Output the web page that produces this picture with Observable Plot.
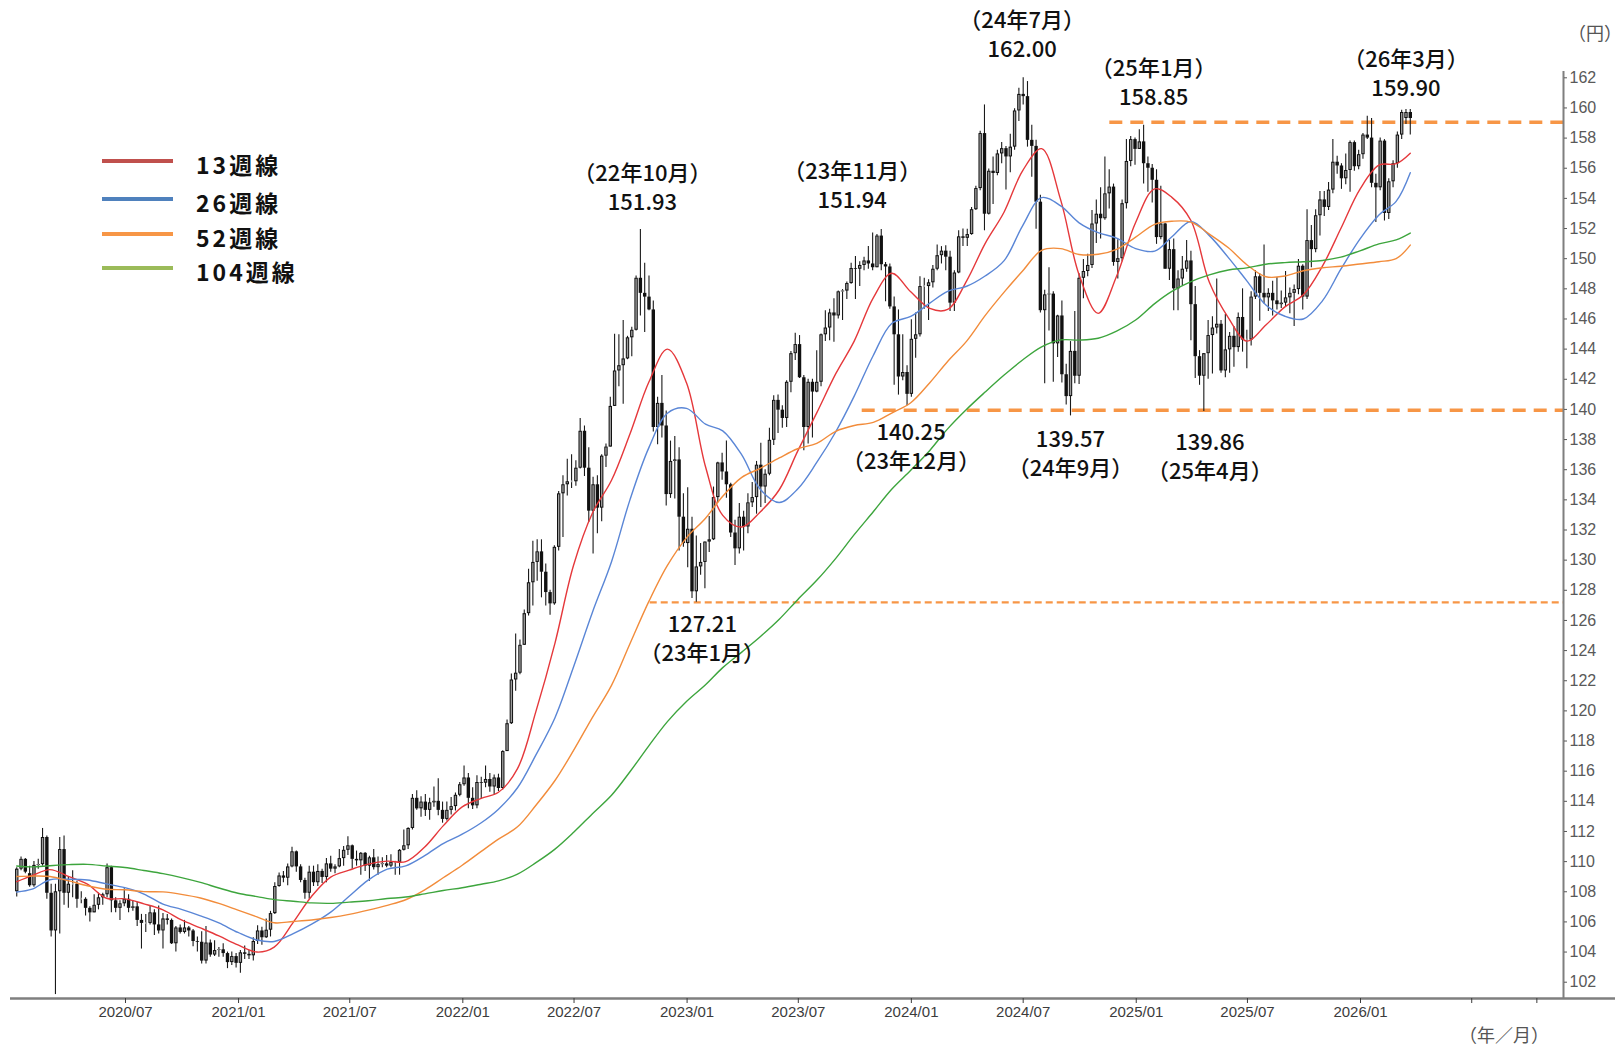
<!DOCTYPE html>
<html><head><meta charset="utf-8">
<script src="https://cdn.jsdelivr.net/npm/d3@7"></script>
<script src="https://cdn.jsdelivr.net/npm/@observablehq/plot@0.6"></script>
<style>
html,body{margin:0;padding:0;background:#fff;}
#wrap{position:relative;width:1623px;height:1048px;overflow:hidden;background:#fff;}
#wrap svg{position:absolute;left:0;top:0;}
.lg{position:absolute;left:102px;width:71px;height:4.5px;}
.lt{position:absolute;left:196px;font-family:"Noto Sans CJK JP",sans-serif;font-weight:700;font-size:23px;letter-spacing:3px;color:#111;line-height:24px;white-space:nowrap;}
.unit{position:absolute;font-family:"Noto Sans CJK JP",sans-serif;font-size:18px;color:#555;line-height:20px;white-space:nowrap;transform:translate(-50%,-50%);}
</style></head><body><div id="wrap"></div>
<script>
// ---------- weekly candles [open, high, low, close] ----------
const y2020 = [
[108.0,109.6,107.65,109.5],[109.5,110.3,109.4,110.15],[110.15,110.2,109.2,109.3],[109.2,109.7,108.3,108.4],
[108.4,110.0,108.3,109.75],[109.75,110.15,109.5,109.8],[109.8,112.2,109.7,111.6],[111.6,111.7,107.5,107.9],
[107.9,108.5,105.0,105.4],[105.4,108.5,101.18,108.0],[108.0,111.6,105.2,110.8],[110.8,111.7,107.1,107.9],[107.9,109.0,106.9,108.5],
[108.5,109.4,107.6,108.5],[108.5,108.7,106.9,107.5],[107.5,108.0,107.2,107.5],[107.5,107.6,106.4,106.9],
[106.9,107.0,105.99,106.6],[106.6,107.8,106.6,107.1],[107.1,107.9,106.8,107.6],[107.6,107.9,107.1,107.8],
[107.8,109.85,107.6,109.6],[109.6,109.7,106.6,107.4],[107.4,107.6,106.6,106.9],[106.9,107.4,106.1,107.2],[107.2,108.2,107.0,107.5],
[107.5,107.8,106.6,106.9],[106.9,107.4,106.7,107.0],[107.0,107.3,105.7,106.1],[106.1,106.5,104.2,105.9],
[105.9,106.5,105.3,105.9],[105.9,107.05,105.8,106.6],[106.6,106.8,105.1,105.8],[105.8,107.05,105.2,105.4],[105.4,106.55,104.2,106.2],
[106.2,106.5,105.8,106.1],[106.1,106.2,104.5,104.55],[104.55,105.7,104.0,105.6],[105.6,105.8,105.2,105.3],
[105.3,106.1,105.2,105.6],[105.6,105.7,105.0,105.4],[105.4,105.5,104.35,104.7],[104.7,105.0,104.0,104.65],
[104.65,105.35,103.2,103.4],[103.4,105.7,103.2,104.6],[104.6,104.8,103.65,103.8],[103.8,104.75,103.7,104.1],[104.1,104.3,103.65,104.15],
[104.15,104.55,103.65,103.9],[103.9,104.0,102.9,103.3],[103.3,104.0,103.1,103.7],[103.7,103.9,102.95,103.25]
];
const y2021 = [
[103.25,104.1,102.6,103.95],[103.95,104.4,103.5,103.85],[103.85,104.1,103.5,103.75],[103.75,104.95,103.4,104.7],
[104.7,105.75,104.5,105.4],[105.4,105.65,104.45,104.95],[104.95,106.2,104.9,105.45],[105.45,106.7,105.0,106.55],
[106.55,108.6,106.5,108.35],[108.35,109.25,108.3,109.05],[109.05,109.35,108.6,108.9],[108.9,109.85,108.4,109.65],[109.65,110.95,109.6,110.65],
[110.65,110.7,109.3,109.65],[109.65,109.8,108.6,108.75],[108.75,108.9,107.5,107.9],[107.9,109.7,107.5,109.3],
[109.3,109.7,108.35,108.6],[108.6,109.8,108.35,109.35],[109.35,109.5,108.55,108.95],[108.95,110.2,108.6,109.85],[109.85,110.35,109.3,109.5],
[109.5,109.8,109.2,109.65],[109.65,110.8,109.6,110.2],[110.2,111.0,109.7,110.75],[110.75,111.65,110.4,111.05],
[111.05,111.1,109.5,110.15],[110.15,110.7,109.7,110.05],[110.05,110.6,109.1,110.55],[110.55,110.6,109.35,109.7],
[109.7,110.35,108.7,110.25],[110.25,110.8,109.45,109.6],[109.6,110.3,109.1,109.8],[109.8,110.25,109.6,109.85],[109.85,110.4,109.6,109.7],
[109.7,110.45,109.6,109.95],[109.95,110.0,109.1,109.95],[109.95,110.8,109.1,110.75],[110.75,112.1,110.7,111.05],
[111.05,112.25,110.8,112.2],[112.2,114.45,112.1,114.2],[114.2,114.7,113.4,113.5],[113.5,114.3,112.95,113.95],
[113.95,114.45,113.0,113.4],[113.4,114.2,112.75,113.9],[113.9,114.95,113.6,114.0],[114.0,115.5,113.05,113.4],[113.4,113.95,112.55,112.8],
[112.8,113.95,112.7,113.4],[113.4,114.25,113.1,113.65],[113.65,114.55,113.35,114.4],[114.4,115.25,114.3,115.1]
];
const y2022 = [
[115.1,116.35,115.0,115.55],[115.55,115.85,113.5,114.2],[114.2,114.9,113.45,113.7],[113.7,115.7,113.5,115.25],[115.25,115.6,114.15,115.2],
[115.2,116.35,114.9,115.45],[115.45,115.85,114.6,114.95],[114.95,115.75,114.4,115.55],[115.55,115.8,114.65,114.85],
[114.85,117.35,114.75,117.3],[117.3,119.4,117.3,119.15],[119.15,122.45,119.1,122.05],[122.05,125.1,121.3,122.5],
[122.5,124.7,122.4,124.35],[124.35,126.7,124.35,126.45],[126.45,129.4,126.3,128.5],[128.5,131.25,126.95,129.85],
[129.85,131.35,128.6,130.55],[130.55,131.35,127.5,129.2],[129.2,129.75,126.95,127.85],[127.85,128.0,126.35,127.1],[127.1,130.95,127.0,130.85],
[130.85,134.55,130.6,134.4],[134.4,135.6,131.5,135.0],[135.0,136.7,134.25,135.2],[135.2,137.0,134.75,135.2],
[135.2,136.6,134.9,136.1],[136.1,139.4,136.05,138.55],[138.55,138.9,135.55,136.1],[136.1,137.45,132.5,133.25],
[133.25,135.5,130.4,135.0],[135.0,135.6,131.75,133.45],[133.45,137.0,132.55,136.9],[136.9,137.7,136.15,137.5],[137.5,140.8,137.5,140.2],
[140.2,144.99,140.2,142.55],[142.55,144.95,141.5,142.9],[142.9,145.9,140.35,143.35],[143.35,144.85,143.3,144.75],
[144.75,145.45,143.5,145.25],[145.25,148.85,145.2,148.7],[148.7,151.93,146.2,147.7],[147.7,149.7,145.1,147.45],[147.45,148.85,146.55,146.6],
[146.6,147.2,138.5,138.8],[138.8,140.8,137.65,140.4],[140.4,142.25,138.1,138.9],[138.9,139.9,133.6,134.35],
[134.35,137.9,134.1,136.55],[136.55,138.2,134.05,136.65],[136.65,137.45,130.6,132.85],[132.85,134.4,130.85,131.1]
];
const y2023 = [
[131.1,134.8,129.5,132.05],[132.05,132.85,127.45,127.9],[127.9,131.6,127.21,129.55],[129.55,131.1,129.0,129.85],[129.85,131.2,128.1,131.2],
[131.2,132.9,130.5,131.35],[131.35,134.85,131.3,134.15],[134.15,136.5,133.8,136.45],[136.45,137.1,135.3,135.85],
[135.85,137.9,134.1,135.0],[135.0,135.1,131.5,131.8],[131.8,132.65,129.65,130.75],[130.75,133.75,130.4,132.85],
[132.85,133.25,130.6,132.2],[132.2,134.4,131.75,133.8],[133.8,135.15,133.5,134.15],[134.15,136.55,133.05,136.3],
[136.3,137.75,133.5,134.85],[134.85,136.0,133.75,135.7],[135.7,138.75,135.6,137.95],[137.95,140.9,137.6,140.6],[140.6,140.95,138.4,139.95],
[139.95,140.25,138.75,139.4],[139.4,141.9,138.8,141.8],[141.8,143.85,141.1,143.7],[143.7,145.05,143.25,144.3],
[144.3,144.9,142.05,142.1],[142.1,142.25,137.25,138.8],[138.8,142.0,137.7,141.8],[141.8,142.0,138.1,141.15],[141.15,143.9,141.1,141.8],
[141.8,145.0,141.5,144.95],[144.95,146.55,144.5,145.4],[145.4,146.65,144.55,146.4],[146.4,147.35,144.45,146.2],
[146.2,147.85,146.0,147.8],[147.8,147.95,145.9,147.85],[147.85,148.45,147.3,148.35],[148.35,149.7,148.3,149.35],
[149.35,150.15,147.3,149.3],[149.3,149.8,148.15,149.55],[149.55,150.1,149.2,149.85],[149.85,150.8,149.3,149.65],[149.65,151.7,149.2,149.4],
[149.4,151.6,149.4,151.5],[151.5,151.94,149.2,149.6],[149.6,149.75,147.15,149.45],[149.45,149.65,146.65,146.8],
[146.8,147.45,141.6,144.95],[144.95,146.6,140.95,142.15],[142.15,144.95,141.9,142.45],[142.45,142.9,140.25,141.0]
];
const y2024 = [
[141.0,145.95,140.8,144.65],[144.65,146.4,143.4,144.95],[144.95,148.8,144.8,148.15],[148.15,148.7,146.65,148.15],[148.15,148.6,145.9,148.4],
[148.4,149.55,148.05,149.3],[149.3,150.9,149.2,150.2],[150.2,150.8,149.65,150.5],[150.5,150.85,149.2,150.1],
[150.1,150.5,146.5,147.05],[147.05,149.2,146.5,149.05],[149.05,151.85,149.0,151.45],[151.45,151.97,150.8,151.35],
[151.35,151.95,150.8,151.6],[151.6,153.4,151.55,153.25],[153.25,154.8,153.2,154.65],[154.65,158.45,154.5,158.3],[158.3,160.2,151.85,152.95],
[152.95,155.95,152.9,155.8],[155.8,156.75,153.6,155.65],[155.65,157.2,155.5,156.95],[156.95,157.7,156.3,157.3],
[157.3,157.45,154.55,156.75],[156.75,158.25,155.7,157.4],[157.4,159.95,157.2,159.8],[159.8,161.3,159.1,160.9],
[160.9,162.0,160.2,160.75],[160.75,161.75,157.4,157.85],[157.85,158.85,155.4,157.45],[157.45,157.85,151.95,153.75],[153.75,154.2,146.4,146.55],
[146.55,147.9,141.7,147.6],[147.6,149.4,145.2,147.65],[147.65,147.8,141.8,144.35],[144.35,146.25,143.45,146.2],
[146.2,147.2,141.75,142.3],[142.3,143.0,140.3,140.85],[140.85,144.5,139.57,143.85],[143.85,146.5,141.7,142.2],[142.2,149.0,141.65,148.7],
[148.7,149.95,147.35,149.15],[149.15,150.3,148.8,149.55],[149.55,153.2,149.35,152.3],[152.3,153.9,151.0,152.95],
[152.95,154.7,151.3,152.65],[152.65,156.75,152.55,154.3],[154.3,155.9,153.3,154.75],[154.75,154.95,149.5,149.75],
[149.75,151.25,148.65,150.0],[150.0,153.9,149.8,153.65],[153.65,157.9,153.3,156.45],[156.45,158.1,156.1,157.9],[157.9,158.0,156.2,157.25]
];
const y2025 = [
[157.25,158.55,157.25,157.75],[157.75,158.85,154.95,156.3],[156.3,156.75,154.4,156.0],[156.0,156.25,153.7,155.2],
[155.2,155.9,150.95,151.4],[151.4,154.8,151.25,152.3],[152.3,152.35,149.3,149.3],[149.3,151.2,148.55,150.6],
[150.6,151.3,146.55,148.0],[148.0,149.2,146.55,148.65],[148.65,150.15,148.2,149.3],[149.3,151.2,149.1,149.85],[149.85,150.5,144.55,146.95],
[146.95,148.15,142.05,143.5],[143.5,143.9,141.6,142.2],[142.2,143.7,139.86,143.7],[143.7,145.9,142.0,144.9],
[144.9,146.15,142.35,145.4],[145.4,148.65,145.0,145.65],[145.65,145.9,142.4,142.55],[142.55,146.3,142.1,143.95],
[143.95,145.1,142.4,144.85],[144.85,145.5,142.8,144.1],[144.1,146.4,143.8,146.1],[146.1,148.0,143.8,144.6],[144.6,145.25,142.7,144.6],
[144.6,147.8,144.2,147.45],[147.45,149.2,147.3,148.8],[148.8,149.0,145.85,147.7],[147.7,150.9,147.0,147.4],
[147.4,148.0,146.5,147.7],[147.7,148.5,146.2,147.2],[147.2,148.75,146.6,146.95],[146.95,147.85,146.7,147.05],
[147.05,149.15,146.8,147.4],[147.4,148.05,146.35,147.7],[147.7,148.25,145.5,147.95],[147.95,149.95,147.6,149.5],[149.5,149.6,146.6,147.45],
[147.45,153.25,147.3,151.2],[151.2,152.2,149.4,150.6],[150.6,153.25,150.4,152.85],[152.85,154.45,151.5,153.9],
[153.9,154.45,152.8,153.4],[153.4,155.05,153.2,154.55],[154.55,157.9,154.3,156.4],[156.4,156.8,155.6,156.15],
[156.15,156.3,154.6,155.3],[155.3,156.95,154.9,155.85],[155.85,157.8,154.4,157.7],[157.7,157.8,155.8,156.1],[156.1,157.2,155.9,156.9]
];
const y2026 = [
[156.9,158.3,156.6,158.2],[158.2,159.45,157.9,158.0],[158.0,159.3,154.7,155.0],[155.0,155.6,152.4,154.7],
[154.7,158.0,154.5,157.8],[157.8,157.9,152.5,153.0],[153.0,155.3,152.6,155.1],[155.1,156.5,154.7,156.3],
[156.3,158.4,156.0,158.2],[158.2,159.85,157.9,159.7],[159.3,159.9,158.9,159.7],[159.7,159.9,158.2,159.3]
];

// ---------- moving averages (start, month ends 2020/01..2026/02, last week) ----------
const ma13 = [108.67,109.07,109.47,109.0,108.5,107.57,107.53,107.2,106.8,106.13,105.6,105.07,104.47,
104.0,104.33,105.97,107.7,108.97,109.43,109.83,110.03,110.0,110.97,112.37,113.63,
114.2,114.6,116.17,119.97,124.5,129.63,133.13,135.3,138.37,141.83,144.0,141.77,
136.2,132.97,132.2,133.2,134.67,137.23,139.77,142.37,144.53,147.4,149.03,147.8,
146.7,146.63,148.53,151.0,153.1,155.83,157.3,153.9,148.93,146.37,148.83,152.4,
154.63,154.07,152.53,148.43,146.07,144.53,145.6,146.8,147.6,149.5,152.0,154.6,
156.2,156.3,157.0];
const ma26 = [107.98,108.17,108.8,108.83,108.78,108.52,108.27,107.85,107.18,106.83,106.4,105.93,105.3,
104.8,104.7,105.22,105.85,106.65,107.7,108.77,109.5,109.72,110.4,111.2,111.82,
112.58,113.48,114.9,117.08,119.55,122.9,126.55,129.9,134.0,137.48,139.75,140.07,
139.02,138.58,136.98,134.7,133.82,134.72,136.48,138.52,140.88,143.58,145.7,146.17,
147.05,147.83,148.17,148.85,149.87,152.18,154.05,153.5,152.38,151.73,151.37,150.67,
150.5,151.45,152.47,151.53,150.07,148.53,146.93,146.18,146.0,147.2,149.3,151.3,
152.9,153.8,155.7];
const ma52 = [109.01,109.04,109.01,108.72,108.4,108.17,108.13,108.01,107.99,107.83,107.59,107.23,106.78,
106.33,105.94,106.03,106.13,106.29,106.5,106.78,107.1,107.47,108.13,108.93,109.76,
110.68,111.49,112.31,113.74,115.38,117.36,119.57,121.69,124.45,127.28,129.65,131.48,
132.78,134.24,135.49,136.09,136.78,137.39,137.75,138.55,138.93,139.14,139.76,140.44,
141.77,143.18,144.53,146.22,147.78,149.18,150.55,150.67,150.28,150.29,150.62,151.43,
152.28,152.48,152.43,151.63,150.72,149.6,148.8,148.85,149.2,149.4,149.5,149.65,
149.8,150.0,150.9];
const ma104 = [109.71,109.65,109.73,109.8,109.82,109.71,109.61,109.41,109.2,108.94,108.62,108.25,107.9,
107.68,107.48,107.37,107.26,107.23,107.31,107.4,107.55,107.65,107.86,108.08,108.27,
108.5,108.72,109.17,109.93,110.83,111.93,113.18,114.4,115.96,117.7,119.29,120.62,
121.73,122.87,123.9,124.92,126.08,127.38,128.66,130.12,131.69,133.21,134.7,135.96,
137.28,138.71,140.01,141.15,142.28,143.28,144.15,144.61,144.6,144.72,145.19,145.93,
147.02,147.83,148.48,148.93,149.25,149.39,149.63,149.74,149.8,149.88,150.1,150.52,
150.98,151.25,151.7];
const maNames = ["13週線","26週線","52週線","104週線"];

// ---------- reference levels ----------
const levelValues = [159.05, 139.95, 127.2];
const levelStarts = ["2024-11-19", "2023-10-13", "2022-11-02"];

// ---------- annotations ----------
const annotDates  = ["2022-10-17","2023-11-13","2024-07-01","2025-01-13","2026-03-16","2023-12-25","2024-09-16","2025-04-21","2023-01-16"];
const annotValues = [151.93,151.94,162.00,158.85,159.90,140.25,139.57,139.86,127.21];
const annotMonths = ["（22年10月）","（23年11月）","（24年7月）","（25年1月）","（26年3月）","（23年12月）","（24年9月）","（25年4月）","（23年1月）"];
const annotSide   = ["above","above","above","above","above","below","below","below","below"];

// ---------- axis ticks ----------
const xTickLabels = ["2020/07","2021/01","2021/07","2022/01","2022/07","2023/01","2023/07","2024/01","2024/07","2025/01","2025/07","2026/01"];
const xBlankTicks = ["2026-07-01","2026-10-15"];
const yTicks = d3.range(102, 163, 2);

// ---------- layout / style (pixels) ----------
const annotShiftX = [2,-29,-1,10,0,4,0,6,6];
const annotShiftY = [0,-2,-1,-1,6,0,-3,4,-4];
const maColors = ["#e5383b","#5a86d6","#f28c3b","#3da53d"];
const legendColors = ["#c0504d","#4f81bd","#f79646","#9bbb59"];
const legendY = [161,199,234,268];

// ---------- build ----------
const parse = s => new Date(s + "T00:00:00Z");
const weeks = d3.utcMonday.range(parse("2020-01-06"), parse("2026-03-24"));
const all = [...y2020,...y2021,...y2022,...y2023,...y2024,...y2025,...y2026];
const candles = all.map((r,i) => ({date: weeks[i], open:r[0], high:r[1], low:r[2], close:r[3],
  top: Math.max(r[0], r[3]), bot: Math.min(r[0], r[3])}));
const upC = candles.filter(d => d.close >= d.open);

const monthEnds = d3.utcMonth.range(parse("2020-02-01"), parse("2026-03-02")).map(d => d3.utcDay.offset(d, -1));
const maDates = [parse("2020-01-06"), ...monthEnds, parse("2026-03-23")];
const maSeries = [ma13, ma26, ma52, ma104].map((arr, k) => arr.map((v, i) => ({date: maDates[i], v, k})));

const yMin = 100.919, yMax = 162.418;
const d0 = new Date(Date.UTC(2019,11,26,20,10));
const d1 = new Date(Date.UTC(2026,10,27,9,0));
const dExt = new Date(Date.UTC(2027,1,20));

const xTickDates = xTickLabels.map(s => parse(s.replace("/","-") + "-01"));
const allXTicks = [...xTickDates, ...xBlankTicks.map(parse)];
const fmtX = d3.utcFormat("%Y/%m");
const labeled = new Set(xTickDates.map(d => +d));

const levels = levelValues.map((v,i) => ({v, from: parse(levelStarts[i]), i}));

const annotMarks = annotDates.map((ds, i) => {
  const a = {date: parse(ds), v: annotValues[i]};
  const above = annotSide[i] === "above";
  const numText = d3.format(".2f")(annotValues[i]);
  const txt = above ? annotMonths[i] + "\n" + numText : numText + "\n" + annotMonths[i];
  return Plot.text([a], {x: "date", y: "v", text: () => txt, dx: annotShiftX[i],
    dy: (above ? -43.5 : 39.5) + annotShiftY[i], lineHeight: 29 / 22,
    fontFamily: "Noto Sans CJK JP", fontSize: 22, fontWeight: 500, fill: "#111",
    textAnchor: "middle", lineAnchor: "middle"});
});

const chart = Plot.plot({
  width: 1623, height: 1048,
  marginLeft: 10, marginRight: 60, marginTop: 71, marginBottom: 50,
  x: {type: "utc", domain: [d0, d1]},
  y: {domain: [yMin, yMax]},
  style: {fontFamily: "Liberation Sans, Arial, sans-serif", background: "transparent", overflow: "visible"},
  marks: [
    // reference dashed levels
    Plot.ruleY(levels.filter(d => d.i < 2), {y: "v", x1: "from", x2: () => d1, stroke: "#f79646", strokeWidth: 3.5, strokeDasharray: "13,8"}),
    Plot.ruleY(levels.filter(d => d.i === 2), {y: "v", x1: "from", x2: () => d1, stroke: "#f79646", strokeWidth: 2.2, strokeDasharray: "7,4"}),
    // candles
    Plot.ruleX(candles, {x: "date", y1: "low", y2: "high", stroke: "#1a1a1a", strokeWidth: 1.1}),
    Plot.ruleX(candles, {x: "date", y1: "top", y2: "bot", stroke: "#111", strokeWidth: 3.4}),
    Plot.ruleX(upC, {x: "date", y1: "top", y2: "bot", stroke: "#9c9c9c", strokeWidth: 1.4, insetTop: 1, insetBottom: 1}),
    // moving averages
    ...maSeries.map((s, k) => Plot.line(s, {x: "date", y: "v", stroke: maColors[k], strokeWidth: 1.4, curve: "catmull-rom"})),
    // axes
    Plot.ruleY([yMin], {x1: () => d0, x2: () => dExt, stroke: "#7f7f7f", strokeWidth: 2.4}),
    Plot.ruleX([d1], {y1: yMin, y2: yMax, stroke: "#7f7f7f", strokeWidth: 2}),
    Plot.axisX({ticks: allXTicks, tickFormat: d => labeled.has(+d) ? fmtX(d) : "", tickSize: 5, tickPadding: 3, fontSize: 15, color: "#3c3c3c", fontFamily: "Liberation Sans, Arial, sans-serif"}),
    Plot.axisY({anchor: "right", ticks: yTicks, tickFormat: d => String(d), tickSize: 3, tickPadding: 3, fontSize: 16, color: "#595959", fontFamily: "Liberation Sans, Arial, sans-serif"}),
    // annotations
    ...annotMarks
  ]
});

const wrap = document.getElementById("wrap");
wrap.appendChild(chart);

// legend
maNames.forEach((name, k) => {
  const ln = document.createElement("div");
  ln.className = "lg";
  ln.style.top = (legendY[k] - 2.25) + "px";
  ln.style.background = legendColors[k];
  wrap.appendChild(ln);
  const tx = document.createElement("div");
  tx.className = "lt";
  tx.style.top = (legendY[k] + 3 - 12) + "px";
  tx.textContent = name;
  wrap.appendChild(tx);
});
// unit labels
[["（円）", 1595, 32], ["（年／月）", 1504, 1034]].forEach(([t, x, y]) => {
  const u = document.createElement("div");
  u.className = "unit";
  u.style.left = x + "px"; u.style.top = y + "px";
  u.textContent = t;
  wrap.appendChild(u);
});
</script></body></html>
